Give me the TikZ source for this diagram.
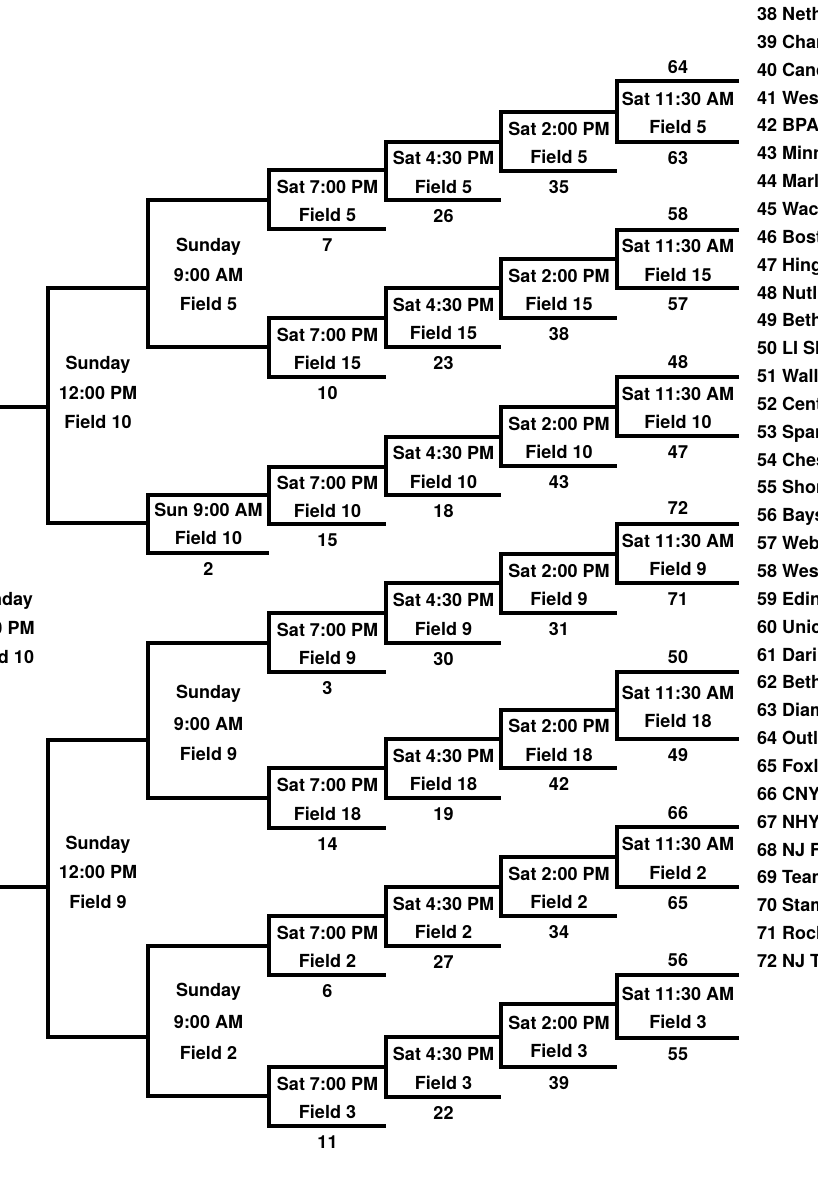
\documentclass[tikz,border=0pt]{standalone}
\usepackage{fontspec}
\setmainfont{TeX Gyre Heros}
\newcommand\game[8]{% name, x1, x2, top, bottom, line1, line2, number below
  \draw[bline] (#3,#4) -- (#2,#4) -- (#2,#5) -- (#3,#5);
  \pgfmathsetmacro\gx{(#2+#3)/2}
  \pgfmathsetmacro\gm{(#4+#5)/2}
  \node[lbl] (#1a) at (\gx,\gm-6.5) {#6};
  \node[lbl] (#1b) at (\gx,\gm+22) {#7};
  \node[lbl] (#1n) at (\gx,#5+22.5) {#8};
}
\newcommand\gametop[4]{% name, x1, x2, top, number above  (uses #1 name)
}
\begin{document}
\begin{tikzpicture}[x=1pt,y=-1pt,
  bline/.style={line width=4pt,line join=miter,line cap=butt},
  lbl/.style={anchor=base,inner sep=0pt,font=\bfseries\fontsize{18}{20}\selectfont},
  team/.style={anchor=base west,inner sep=0pt,font=\bfseries\fontsize{18}{20}\selectfont}]
\useasboundingbox (0,0) rectangle (817,1200);
\clip (0,0) rectangle (817,1200);
\fill[white] (0,0) rectangle (817,1200);

% final feeds and label (cut off at left)
\draw[bline] (-10,407) -- (48,407);
\draw[bline] (-10,887) -- (48,887);
\node[lbl] (fin1) at (0.5,605.5) {Sunday};
\node[lbl] (fin2) at (0.5,634.5) {3:00 PM};
\node[lbl] (fin3) at (0.5,663.5) {Field 10};

% semifinals
\draw[bline] (148,288) -- (48,288) -- (48,523) -- (148,523);
\node[lbl] (sa1) at (98,369.5) {Sunday};
\node[lbl] (sa2) at (98,399.5) {12:00 PM};
\node[lbl] (sa3) at (98,428.5) {Field 10};
\draw[bline] (148,740) -- (48,740) -- (48,1037) -- (148,1037);
\node[lbl] (sb1) at (98,849.5) {Sunday};
\node[lbl] (sb2) at (98,878.5) {12:00 PM};
\node[lbl] (sb3) at (98,908.5) {Field 9};

% quarterfinals
\draw[bline] (269,200) -- (148,200) -- (148,347) -- (269,347);
\node[lbl] (qa1) at (208.5,251.5) {Sunday};
\node[lbl] (qa2) at (208.5,281.5) {9:00 AM};
\node[lbl] (qa3) at (208.5,310.5) {Field 5};
\draw[bline] (269,495) -- (148,495) -- (148,553) -- (269,553);
\node[lbl] (qb1) at (208.5,516.5) {Sun 9:00 AM};
\node[lbl] (qb2) at (208.5,544.5) {Field 10};
\node[lbl] (qbn) at (208.5,575.5) {2};
\draw[bline] (269,643) -- (148,643) -- (148,798) -- (269,798);
\node[lbl] (qc1) at (208.5,698.5) {Sunday};
\node[lbl] (qc2) at (208.5,730.5) {9:00 AM};
\node[lbl] (qc3) at (208.5,760.5) {Field 9};
\draw[bline] (269,946) -- (148,946) -- (148,1096) -- (269,1096);
\node[lbl] (qd1) at (208.5,996.5) {Sunday};
\node[lbl] (qd2) at (208.5,1028.5) {9:00 AM};
\node[lbl] (qd3) at (208.5,1059.5) {Field 2};

% Sat 7:00 PM
\game{c1}{269}{386}{170}{229}{Sat 7:00 PM}{Field 5}{7}
\game{c2}{269}{386}{318}{377}{Sat 7:00 PM}{Field 15}{10}
\game{c3}{269}{386}{467}{524}{Sat 7:00 PM}{Field 10}{15}
\game{c4}{269}{386}{613}{672}{Sat 7:00 PM}{Field 9}{3}
\game{c5}{269}{386}{768}{828}{Sat 7:00 PM}{Field 18}{14}
\game{c6}{269}{386}{916}{975}{Sat 7:00 PM}{Field 2}{6}
\game{c7}{269}{386}{1067}{1126}{Sat 7:00 PM}{Field 3}{11}

% Sat 4:30 PM
\game{d1}{386}{501}{142}{200}{Sat 4:30 PM}{Field 5}{26}
\game{d2}{386}{501}{288}{347}{Sat 4:30 PM}{Field 15}{23}
\game{d3}{386}{501}{437}{495}{Sat 4:30 PM}{Field 10}{18}
\game{d4}{386}{501}{583}{643}{Sat 4:30 PM}{Field 9}{30}
\game{d5}{386}{501}{739}{798}{Sat 4:30 PM}{Field 18}{19}
\game{d6}{386}{501}{887}{946}{Sat 4:30 PM}{Field 2}{27}
\game{d7}{386}{501}{1037}{1097}{Sat 4:30 PM}{Field 3}{22}

% Sat 2:00 PM
\game{e1}{501}{617}{112}{171}{Sat 2:00 PM}{Field 5}{35}
\game{e2}{501}{617}{259}{318}{Sat 2:00 PM}{Field 15}{38}
\game{e3}{501}{617}{407}{466}{Sat 2:00 PM}{Field 10}{43}
\game{e4}{501}{617}{554}{613}{Sat 2:00 PM}{Field 9}{31}
\game{e5}{501}{617}{710}{768}{Sat 2:00 PM}{Field 18}{42}
\game{e6}{501}{617}{857}{916}{Sat 2:00 PM}{Field 2}{34}
\game{e7}{501}{617}{1004}{1067}{Sat 2:00 PM}{Field 3}{39}

% Sat 11:30 AM
\game{f1}{617}{739}{81}{142}{Sat 11:30 AM}{Field 5}{63}
\node[lbl] (f1t) at (678,73.5) {64};
\game{f2}{617}{739}{230}{288}{Sat 11:30 AM}{Field 15}{57}
\node[lbl] (f2t) at (678,220.5) {58};
\game{f3}{617}{739}{377}{436}{Sat 11:30 AM}{Field 10}{47}
\node[lbl] (f3t) at (678,368.5) {48};
\game{f4}{617}{739}{524}{583}{Sat 11:30 AM}{Field 9}{71}
\node[lbl] (f4t) at (678,514.5) {72};
\game{f5}{617}{739}{672}{739}{Sat 11:30 AM}{Field 18}{49}
\node[lbl] (f5t) at (678,663.5) {50};
\game{f6}{617}{739}{827}{887}{Sat 11:30 AM}{Field 2}{65}
\node[lbl] (f6t) at (678,819.5) {66};
\game{f7}{617}{739}{975}{1038}{Sat 11:30 AM}{Field 3}{55}
\node[lbl] (f7t) at (678,966.5) {56};

% team list
\foreach \t [count=\i from 0] in {38 Neth,39 Char,40 Canc,41 Wes,42 BPA,43 Minn,44 Marl,45 Wac,46 Bost,47 Hing,48 Nutl,49 Beth,50 LI Sl,51 Wall,52 Cent,53 Spar,54 Ches,55 Shor,56 Bays,57 Web,58 Wes,59 Edin,60 Unic,61 Dari,62 Beth,63 Diam,64 Outl,65 Foxl,66 CNY,67 NHY,68 NJ F,69 Team,70 Stam,71 Roch,72 NJ T}
  \node[team] (team\i) at (757,20.5+\i*27.85) {\t};
\end{tikzpicture}
\end{document}
